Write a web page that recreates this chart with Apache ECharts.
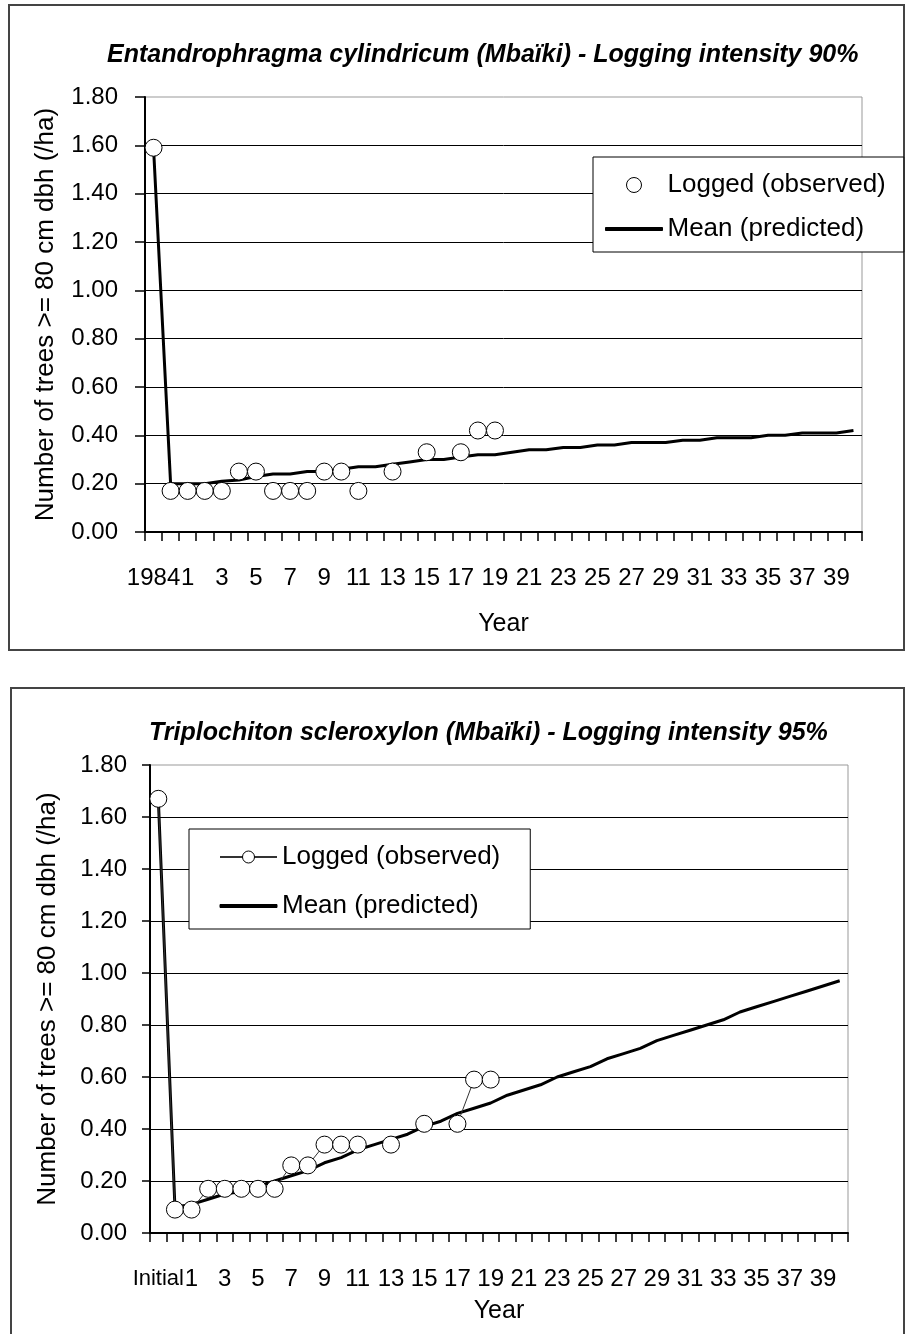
<!DOCTYPE html>
<html>
<head>
<meta charset="utf-8">
<script src="https://cdn.jsdelivr.net/npm/echarts@6.0.0/dist/echarts.min.js"></script>
<style>
html,body{margin:0;padding:0;background:#fff;}
#c{width:907px;height:1334px;}
</style>
</head>
<body>
<div id="c"></div>
<script>
// ---------------- data ----------------
const title1 = "Entandrophragma cylindricum (Mbaïki) - Logging intensity 90%";
const title2 = "Triplochiton scleroxylon (Mbaïki) - Logging intensity 95%";
const yAxisName = "Number of trees >= 80 cm dbh (/ha)";
const xAxisName = "Year";
const seriesLabels = ["Logged (observed)", "Mean (predicted)"];

const categories1 = ["1984","0","1","2","3","4","5","6","7","8","9","10","11","12","13","14","15","16","17","18","19","20","21","22","23","24","25","26","27","28","29","30","31","32","33","34","35","36","37","38","39","40"];
const categories2 = ["Initial","0","1","2","3","4","5","6","7","8","9","10","11","12","13","14","15","16","17","18","19","20","21","22","23","24","25","26","27","28","29","30","31","32","33","34","35","36","37","38","39","40"];

const observed1 = [1.59,0.17,0.17,0.17,0.17,0.25,0.25,0.17,0.17,0.17,0.25,0.25,0.17,null,0.25,null,0.33,null,0.33,0.42,0.42,null,null,null,null,null,null,null,null,null,null,null,null,null,null,null,null,null,null,null,null,null];
const predicted1 = [1.59,0.20,0.20,0.20,0.21,0.215,0.23,0.24,0.24,0.25,0.25,0.26,0.27,0.27,0.28,0.29,0.30,0.30,0.31,0.32,0.32,0.33,0.34,0.34,0.35,0.35,0.36,0.36,0.37,0.37,0.37,0.38,0.38,0.39,0.39,0.39,0.40,0.40,0.41,0.41,0.41,0.42];

const observed2 = [1.67,0.09,0.09,0.17,0.17,0.17,0.17,0.17,0.26,0.26,0.34,0.34,0.34,null,0.34,null,0.42,null,0.42,0.59,0.59,null,null,null,null,null,null,null,null,null,null,null,null,null,null,null,null,null,null,null,null,null];
const predicted2 = [1.67,0.10,0.11,0.13,0.15,0.16,0.18,0.20,0.22,0.24,0.27,0.29,0.32,0.34,0.36,0.38,0.41,0.43,0.46,0.48,0.50,0.53,0.55,0.57,0.60,0.62,0.64,0.67,0.69,0.71,0.74,0.76,0.78,0.80,0.82,0.85,0.87,0.89,0.91,0.93,0.95,0.97];

const yTicks = { min: 0, max: 1.8, interval: 0.2 };

// ---------------- chart ----------------
const FONT = "'Liberation Sans', Arial, Helvetica, sans-serif";
const legendText = { obs1: seriesLabels[0], pred1: seriesLabels[1], obs2: seriesLabels[0], pred2: seriesLabels[1] };
const LINE_ICON = 'path://M0,0H57V3H0Z';

function makeYAxis(gridIndex, margin, tickLen, nameGap) {
  return {
    type: 'value', gridIndex: gridIndex,
    min: yTicks.min, max: yTicks.max, interval: yTicks.interval,
    name: yAxisName, nameLocation: 'middle', nameGap: nameGap, nameRotate: 90,
    nameTextStyle: { fontFamily: FONT, fontSize: 26, color: '#000' },
    axisLine: { show: true, lineStyle: { color: '#000', width: 2 } },
    axisTick: { show: true, inside: false, length: tickLen, lineStyle: { color: '#000', width: 1.5 } },
    axisLabel: { margin: margin, fontFamily: FONT, fontSize: 24, color: '#000',
      showMinLabel: true, showMaxLabel: true,
      formatter: function (v) { return v.toFixed(2); } },
    splitLine: { show: true, showMaxLine: false, lineStyle: { color: '#000', width: 1 } }
  };
}
function makeXAxis(gridIndex, data, nameGap) {
  return {
    type: 'category', gridIndex: gridIndex, data: data, boundaryGap: true,
    name: xAxisName, nameLocation: 'middle', nameGap: nameGap,
    nameTextStyle: { fontFamily: FONT, fontSize: 25, color: '#000' },
    axisLine: { show: true, lineStyle: { color: '#000', width: 2 } },
    axisTick: { show: true, interval: 0, inside: false, length: 9, alignWithLabel: false,
      lineStyle: { color: '#000', width: 1.5 } },
    axisLabel: { interval: 1, margin: 34, fontFamily: FONT, fontSize: 24, color: '#000',
      hideOverlap: false, showMinLabel: true,
      formatter: function (v) { return /^[A-Za-z]/.test(v) ? '{w|' + v + '}' : v; },
      rich: { w: { fontFamily: FONT, fontSize: 22, lineHeight: 24, color: '#000' } } },
    splitLine: { show: false }
  };
}
function makeLegend(left, top, names, padding, itemGap) {
  return {
    show: true, orient: 'vertical', left: left, top: top,
    data: [ { name: names[0] }, { name: names[1], icon: LINE_ICON } ],
    formatter: function (n) { return legendText[n]; },
    padding: padding, itemGap: itemGap, itemWidth: 57, itemHeight: 15,
    symbolKeepAspect: true,
    backgroundColor: '#fff', borderColor: '#000', borderWidth: 1, borderRadius: 0,
    textStyle: { fontFamily: FONT, fontSize: 26, lineHeight: 26, color: '#000' },
    itemStyle: { borderWidth: 1 },
    selectedMode: false, z: 10
  };
}
const titleStyle = { fontFamily: FONT, fontSize: 25, fontWeight: 'bold', fontStyle: 'italic', color: '#000' };

const option = {
  animation: false,
  backgroundColor: '#fff',
  title: [
    { text: title1, left: 107, top: 43, padding: 0, textStyle: titleStyle },
    { text: title2, left: 149, top: 721, padding: 0, textStyle: titleStyle }
  ],
  graphic: [
    { type: 'rect', silent: true, z: 0, shape: { x: 9, y: 5, width: 895, height: 645 },
      style: { fill: 'none', stroke: '#444', lineWidth: 2 } },
    { type: 'rect', silent: true, z: 0, shape: { x: 11, y: 688, width: 893, height: 700 },
      style: { fill: 'none', stroke: '#444', lineWidth: 2 } }
  ],
  grid: [
    { left: 145, top: 97, width: 717, height: 435, show: true, borderColor: '#999', borderWidth: 1,
      backgroundColor: 'transparent', containLabel: false, outerBoundsMode: 'none' },
    { left: 150, top: 765, width: 698, height: 468, show: true, borderColor: '#999', borderWidth: 1,
      backgroundColor: 'transparent', containLabel: false, outerBoundsMode: 'none' }
  ],
  xAxis: [ makeXAxis(0, categories1, 80), makeXAxis(1, categories2, 66) ],
  yAxis: [ makeYAxis(0, 27, 10, 86), makeYAxis(1, 23, 8, 89) ],
  legend: [
    makeLegend(593, 157, ['obs1', 'pred1'], [15, 18, 10, 12], 18),
    makeLegend(189, 829, ['obs2', 'pred2'], [15, 30, 10, 30], 23)
  ],
  series: [
    { name: 'pred1', type: 'line', xAxisIndex: 0, yAxisIndex: 0, data: predicted1,
      symbol: 'none', lineStyle: { color: '#000', width: 3 }, itemStyle: { color: '#000', borderColor: '#000' }, z: 2, silent: true },
    { name: 'obs1', type: 'scatter', xAxisIndex: 0, yAxisIndex: 0, data: observed1,
      symbol: 'circle', symbolSize: 17,
      itemStyle: { color: '#fff', borderColor: '#000', borderWidth: 1, opacity: 1 }, z: 3, silent: true },
    { name: 'pred2', type: 'line', xAxisIndex: 1, yAxisIndex: 1, data: predicted2,
      symbol: 'none', lineStyle: { color: '#000', width: 3 }, itemStyle: { color: '#000', borderColor: '#000' }, z: 2, silent: true },
    { name: 'obs2', type: 'line', xAxisIndex: 1, yAxisIndex: 1, data: observed2,
      symbol: 'circle', symbolSize: 17, showSymbol: true, showAllSymbol: true, connectNulls: false,
      lineStyle: { color: '#333', width: 1 },
      itemStyle: { color: '#fff', borderColor: '#000', borderWidth: 1 }, z: 3, silent: true }
  ]
};

const chart = echarts.init(document.getElementById('c'), null, { renderer: 'canvas', width: 907, height: 1334 });
chart.setOption(option);
</script>
</body>
</html>
